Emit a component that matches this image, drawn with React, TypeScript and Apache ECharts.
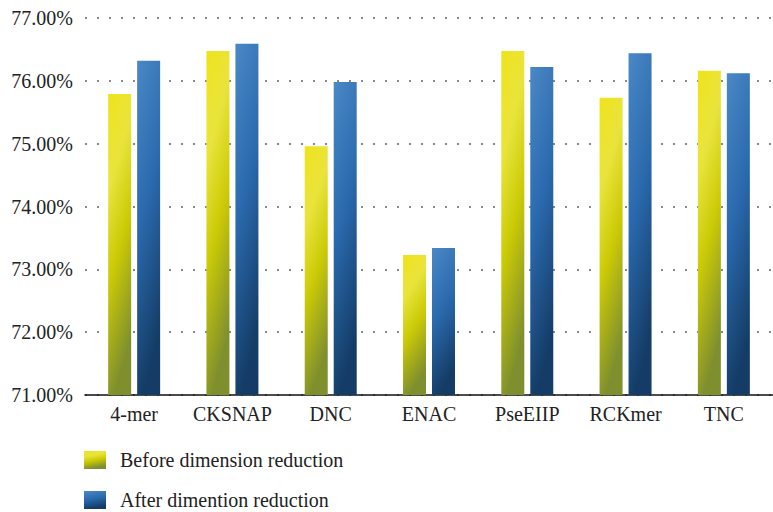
import React, { useEffect, useRef } from "react";
import * as echarts from "echarts";

const categories = ["4-mer", "CKSNAP", "DNC", "ENAC", "PseEIIP", "RCKmer", "TNC"];
const beforeValues = [75.79, 76.475, 74.96, 73.23, 76.475, 75.73, 76.16];
const afterValues = [76.32, 76.59, 75.98, 73.34, 76.22, 76.44, 76.12];
const seriesNames = ["Before dimension reduction", "After dimention reduction"];

const yellowGrad = new echarts.graphic.LinearGradient(0, 0, 0.25, 1, [
  { offset: 0, color: "#f0e31a" },
  { offset: 0.3, color: "#e9e43c" },
  { offset: 0.6, color: "#cbca06" },
  { offset: 1, color: "#7f8f2e" },
]);
const blueGrad = new echarts.graphic.LinearGradient(0, 0, 0.25, 1, [
  { offset: 0, color: "#4a88c6" },
  { offset: 0.5, color: "#2a69ad" },
  { offset: 1, color: "#143c66" },
]);

export default function App() {
  const ref = useRef<HTMLDivElement>(null);
  useEffect(() => {
    if (!ref.current) return;
    const chart = echarts.init(ref.current, null, { renderer: "svg" });
    const font = "'Liberation Serif', 'DejaVu Serif', serif";
    chart.setOption({
      animation: false,
      grid: { left: 85, top: 18, width: 697, height: 377 },
      legend: {
        orient: "vertical",
        left: 84,
        top: 450,
        padding: 0,
        itemWidth: 22,
        itemHeight: 18,
        itemGap: 20,
        icon: "rect",
        textStyle: { fontFamily: font, fontSize: 20, color: "#222", padding: [0, 0, 0, 9] },
        data: seriesNames,
      },
      xAxis: {
        type: "category",
        data: categories,
        axisLine: { lineStyle: { color: "#111", width: 1.5 } },
        axisTick: { show: false },
        axisLabel: { fontFamily: font, fontSize: 20, color: "#222", margin: 9, interval: 0 },
      },
      yAxis: {
        type: "value",
        min: 71,
        max: 77,
        interval: 1,
        axisLine: { show: false },
        axisTick: { show: false },
        axisLabel: {
          fontFamily: font,
          fontSize: 20,
          color: "#222",
          margin: 12,
          formatter: (v: number) => v.toFixed(2) + "%",
        },
        splitLine: { lineStyle: { color: "#888", width: 2, type: [2, 10] } },
      },
      series: [
        {
          name: seriesNames[0],
          type: "bar",
          data: beforeValues,
          barWidth: 23,
          barGap: "26%",
          itemStyle: { color: yellowGrad },
        },
        {
          name: seriesNames[1],
          type: "bar",
          data: afterValues,
          barWidth: 23,
          itemStyle: { color: blueGrad },
        },
      ],
    });
    return () => chart.dispose();
  }, []);
  return <div ref={ref} style={{ width: 773, height: 512, position: "absolute", left: 0, top: 0 }} />;
}
